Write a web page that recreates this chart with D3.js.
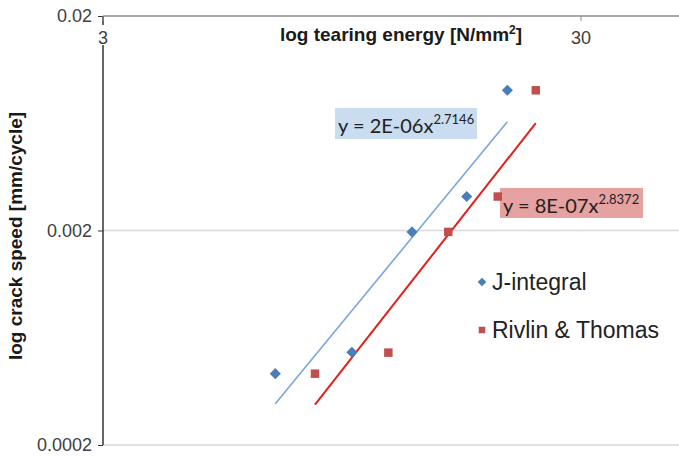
<!DOCTYPE html>
<html>
<head>
<meta charset="utf-8">
<script src="https://cdn.jsdelivr.net/npm/d3@7"></script>
<style>
  html, body { margin: 0; padding: 0; background: #fff; }
  svg { display: block; font-family: "Liberation Sans", Arial, sans-serif; }
</style>
</head>
<body>
<div id="chart"></div>
<script>
// tearing energy [N/mm2] vs crack speed [mm/cycle]
const jEnergy = [6.88, 9.95, 13.29, 17.30, 21.04];
const jSpeed = [0.000430, 0.000541, 0.00197, 0.00288, 0.00901];
const rtEnergy = [8.33, 11.86, 15.83, 20.09, 24.13];
const rtSpeed = [0.000430, 0.000539, 0.00197, 0.00288, 0.00901];
const xTicks = [3, 30];
const yTicks = [0.0002, 0.002, 0.02];
const seriesNames = ['J-integral', 'Rivlin & Thomas'];
const eqText = [['y = 2E-06x', '2.7146'], ['y = 8E-07x', '2.8372']];

const width = 679, height = 456;
const blue = '#4a7ebb', red = '#c0504d';

const svg = d3.select('#chart').append('svg').attr('width', width).attr('height', height);

const x = d3.scaleLog().domain([3, 30]).range([103, 581]);
const y = d3.scaleLog().domain([0.0002, 0.02]).range([445, 16]);

// gridlines
svg.append('g').selectAll('line').data(yTicks.slice(0, 2)).join('line')
  .attr('x1', 103).attr('x2', width).attr('y1', d => y(d)).attr('y2', d => y(d))
  .attr('stroke', '#d9d9d9').attr('stroke-width', 1.5);

// top x axis line at 0.02
svg.append('line').attr('x1', 103).attr('x2', width).attr('y1', y(0.02)).attr('y2', y(0.02))
  .attr('stroke', '#8c8c8c').attr('stroke-width', 1.5);

// y axis
const yAxis = d3.axisLeft(y).tickValues(yTicks).tickFormat(d3.format('')).tickSize(5).tickPadding(6);
const gy = svg.append('g').attr('transform', 'translate(103,0)').call(yAxis);
gy.select('.domain').attr('stroke', '#333').attr('stroke-width', 1.5).attr('d', `M0,${y(0.02)}V${y(0.0002)}`);
gy.selectAll('.tick line').attr('stroke', '#333');
gy.selectAll('.tick text').attr('font-size', 18).attr('fill', '#404040').attr('font-family', '"Liberation Sans", Arial, sans-serif');

// x tick labels below the top line
const gx = svg.append('g');
gx.selectAll('line').data(xTicks).join('line')
  .attr('x1', d => x(d)).attr('x2', d => x(d)).attr('y1', y(0.02)).attr('y2', y(0.02) + 5)
  .attr('stroke', '#8c8c8c');
gx.selectAll('rect').data(xTicks).join('rect')
  .attr('x', d => x(d) - 8).attr('y', 25).attr('width', 16).attr('height', 20).attr('fill', '#fff');
gx.selectAll('text').data(xTicks).join('text')
  .attr('x', d => x(d)).attr('y', 44).attr('text-anchor', 'middle')
  .attr('font-size', 18).attr('fill', '#404040').text(d => d);

// axis titles
const xt = svg.append('text').attr('x', 401).attr('y', 41).attr('text-anchor', 'middle')
  .attr('font-size', 19).attr('font-weight', 'bold').attr('fill', '#1a1a1a');
xt.append('tspan').text('log tearing energy [N/mm');
xt.append('tspan').attr('font-size', 12).attr('dy', -7).text('2');
xt.append('tspan').attr('dy', 7).text(']');
svg.append('text').attr('transform', 'translate(22,236) rotate(-90)').attr('text-anchor', 'middle')
  .attr('font-size', 19).attr('font-weight', 'bold').attr('fill', '#1a1a1a')
  .text('log crack speed [mm/cycle]');

// power-law trendlines fitted in log space
function powerFit(xs, ys) {
  const lx = xs.map(Math.log), ly = ys.map(Math.log);
  const mx = d3.mean(lx), my = d3.mean(ly);
  const b = d3.sum(lx, (v, i) => (v - mx) * (ly[i] - my)) / d3.sum(lx, v => (v - mx) ** 2);
  const a = Math.exp(my - b * mx);
  return v => a * Math.pow(v, b);
}
const series = [
  { xs: jEnergy, ys: jSpeed, color: blue, line: '#7aa6dc', lw: 1.6, rot: 45, size: 62 },
  { xs: rtEnergy, ys: rtSpeed, color: red, line: '#e0201c', lw: 2, rot: 0, size: 72 }
];
series.forEach(s => {
  const f = powerFit(s.xs, s.ys);
  const ext = d3.extent(s.xs);
  svg.append('line').attr('x1', x(ext[0])).attr('y1', y(f(ext[0])))
    .attr('x2', x(ext[1])).attr('y2', y(f(ext[1])))
    .attr('stroke', s.line).attr('stroke-width', s.lw);
});

// equation labels
const eqPos = [{ x: 335, y: 108, w: 142, h: 31, fill: '#c9dcf0' }, { x: 500, y: 188, w: 143, h: 30, fill: '#e6a1a1' }];
eqText.forEach((e, i) => {
  const p = eqPos[i];
  svg.append('rect').attr('x', p.x).attr('y', p.y).attr('width', p.w).attr('height', p.h).attr('fill', p.fill);
  const t = svg.append('text').attr('x', p.x + 3).attr('y', p.y + 25)
    .attr('font-family', 'Lato, "Open Sans", sans-serif').attr('font-size', 20).attr('fill', '#222');
  t.append('tspan').text(e[0]);
  t.append('tspan').attr('font-size', 13).attr('dy', -9).text(e[1]);
});

// points
series.forEach(s => {
  svg.append('g').selectAll('path').data(s.xs).join('path')
    .attr('transform', (d, i) => `translate(${x(d)},${y(s.ys[i])}) rotate(${s.rot})`)
    .attr('d', d3.symbol().type(d3.symbolSquare).size(s.size))
    .attr('fill', s.color);
});

// legend
const leg = svg.append('g').attr('transform', 'translate(482,282)');
series.forEach((s, i) => {
  const g = leg.append('g').attr('transform', `translate(0,${i * 48})`);
  g.append('path').attr('transform', `rotate(${s.rot})`)
    .attr('d', d3.symbol().type(d3.symbolSquare).size(s.size * 0.6)).attr('fill', s.color);
  g.append('text').attr('x', 10).attr('y', 8).attr('font-size', 23).attr('fill', '#222').text(seriesNames[i]);
});
</script>
</body>
</html>
